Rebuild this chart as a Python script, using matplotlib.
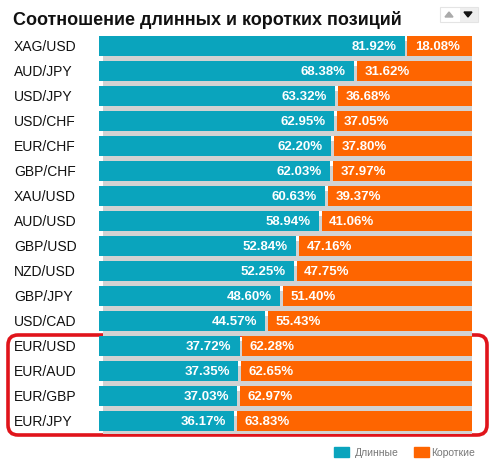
import matplotlib
matplotlib.use('Agg')
import matplotlib.pyplot as plt
from matplotlib.patches import FancyBboxPatch, Rectangle
import numpy as np

pairs = ['XAG/USD', 'AUD/JPY', 'USD/JPY', 'USD/CHF', 'EUR/CHF', 'GBP/CHF', 'XAU/USD',
         'AUD/USD', 'GBP/USD', 'NZD/USD', 'GBP/JPY', 'USD/CAD', 'EUR/USD', 'EUR/AUD',
         'EUR/GBP', 'EUR/JPY']
long_pct = [81.92, 68.38, 63.32, 62.95, 62.20, 62.03, 60.63, 58.94, 52.84, 52.25,
            48.60, 44.57, 37.72, 37.35, 37.03, 36.17]
short_pct = [18.08, 31.62, 36.68, 37.05, 37.80, 37.97, 39.37, 41.06, 47.16, 47.75,
             51.40, 55.43, 62.28, 62.65, 62.97, 63.83]

blue = '#0aa4bd'
orange = '#fe6500'
shadow = '#d2d2d2'
plt.rcParams['font.family'] = ['Liberation Sans', 'DejaVu Sans']

W, H = 504, 477
fig = plt.figure(figsize=(W / 100, H / 100), dpi=100)

# overlay axes in pixel coordinates for decorations
bg = fig.add_axes([0, 0, 1, 1])
bg.set_xlim(0, W)
bg.set_ylim(H, 0)
bg.axis('off')

# bar axes: x in percent, rows by index
n = len(pairs)
x0, x1 = 99, 472
top, bot = 34.5, 434.5
ax = fig.add_axes([x0 / W, 1 - bot / H, (x1 - x0) / W, (bot - top) / H])
ax.set_xlim(0, 100)
ax.set_ylim(n - 0.5, -0.5)
ax.axis('off')

y = np.arange(n)
long_arr = np.array(long_pct)
gap = 0.75
px = 100 / (x1 - x0)
# shadow
ax.barh(y + 0.2, 100 + 1 * px, left=4 * px, height=0.8, color=shadow, zorder=1)
ax.barh(y, long_arr, height=0.8, color=blue, zorder=2)
ax.barh(y, 100 - long_arr - gap, left=long_arr + gap, height=0.8, color=orange, zorder=2)

for i in range(n):
    ax.text(long_pct[i] - 2.2, y[i], f'{long_pct[i]:.2f}%', ha='right', va='center',
            color='white', fontsize=9.5, fontweight='bold', zorder=3)
    ax.text(long_pct[i] + gap + 2.0, y[i], f'{short_pct[i]:.2f}%', ha='left', va='center',
            color='white', fontsize=9.5, fontweight='bold', zorder=3)
    bg.text(14, 47 + 25 * i, pairs[i], ha='left', va='center', fontsize=10, color='#111111')

# title
bg.text(13, 20, 'Соотношение длинных и коротких позиций', ha='left', va='center',
        fontsize=13, fontweight='bold', color='#111111')

# sort arrows icon
bg.add_patch(Rectangle((440, 8), 38, 15, facecolor='white', edgecolor='#e4e4e4', lw=0.8))
bg.add_patch(Rectangle((460, 8.5), 17.5, 14, facecolor='#eeeeee', edgecolor='none'))
bg.add_patch(plt.Polygon([[445, 18], [453, 18], [449, 13]], color='#aaaaaa'))
bg.add_patch(plt.Polygon([[464, 13], [472, 13], [468, 18]], color='#111111'))

# red highlight box
bg.add_patch(FancyBboxPatch((8, 336), 479, 100, boxstyle='round,pad=0,rounding_size=10',
                            facecolor='none', edgecolor='#e0141b', lw=2.6, zorder=5))

# legend
bg.add_patch(Rectangle((334, 448), 15, 10, color=blue))
bg.text(355, 453.5, 'Длинные', ha='left', va='center', fontsize=7.5, color='#777777')
bg.add_patch(Rectangle((414, 448), 15, 10, color=orange))
bg.text(431, 453.5, 'Короткие', ha='left', va='center', fontsize=7.5, color='#777777')

fig.savefig('out.png', dpi=100)
